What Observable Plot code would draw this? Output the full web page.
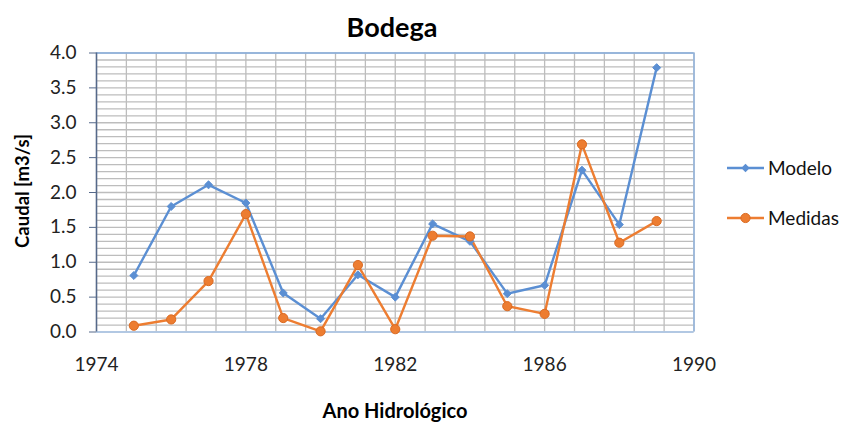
<!DOCTYPE html>
<html>
<head>
<meta charset="utf-8">
<script src="https://cdn.jsdelivr.net/npm/d3@7"></script>
<script src="https://cdn.jsdelivr.net/npm/@observablehq/plot@0.6"></script>
<style>
  html, body { margin: 0; padding: 0; background: #fff; }
  #chart svg { display: block; }
</style>
</head>
<body>
<div id="chart"></div>
<script>
// ---- data ----
const years   = [1975, 1976, 1977, 1978, 1979, 1980, 1981, 1982, 1983, 1984, 1985, 1986, 1987, 1988, 1989];
const modelo  = [0.81, 1.80, 2.11, 1.85, 0.56, 0.19, 0.82, 0.50, 1.55, 1.30, 0.55, 0.67, 2.32, 1.54, 3.79];
const medidas = [0.09, 0.18, 0.73, 1.69, 0.20, 0.01, 0.96, 0.04, 1.38, 1.37, 0.37, 0.26, 2.69, 1.28, 1.59];
const xTicks  = [1974, 1978, 1982, 1986, 1990];
const yTicks  = [0, 0.5, 1, 1.5, 2, 2.5, 3, 3.5, 4];
const seriesNames = ["Modelo", "Medidas"];
const title = "Bodega";
const xLabel = "Ano Hidrológico";
const yLabel = "Caudal [m3/s]";

// ---- styling / layout ----
const blue = "#5B8FD3";
const orange = "#ED7D31";
const orangeEdge = "#DA6A22";
const gridColor = "#BDBDBD";
const axisColor = "#55698A";
const frameColor = "#86AEDF";
const font = "Lato, 'Open Sans', sans-serif";

// minor grid positions (Excel minor unit = major/5)
const xMinor = d3.range(0, 21).map(i => 1974 + i * 0.8);
const yMinor = d3.range(0, 41).map(i => i / 10);

const rows = years.flatMap((yr, i) => [
  {year: yr, value: modelo[i], series: seriesNames[0]},
  {year: yr, value: medidas[i], series: seriesNames[1]}
]);
const rowsModelo = rows.filter(d => d.series === seriesNames[0]);
const rowsMedidas = rows.filter(d => d.series === seriesNames[1]);

const diamond = {
  draw(ctx, size) {
    const r = Math.sqrt(size / 2);
    ctx.moveTo(0, -r); ctx.lineTo(r, 0); ctx.lineTo(0, r); ctx.lineTo(-r, 0); ctx.closePath();
  }
};

const svg = Plot.plot({
  width: 844,
  height: 424,
  marginLeft: 96,
  marginRight: 150.5,
  marginTop: 52.5,
  marginBottom: 92.5,
  style: {fontFamily: font, fontSize: "18px", color: "#222", background: "#fff", overflow: "visible"},
  x: {domain: [1974, 1990]},
  y: {domain: [0, 4]},
  marks: [
    Plot.ruleY(yMinor, {stroke: gridColor, strokeWidth: 1.3}),
    Plot.ruleX(xMinor, {stroke: gridColor, strokeWidth: 1.3}),
    Plot.ruleY([4], {stroke: frameColor, strokeWidth: 1.3}),
    Plot.ruleY([0], {stroke: "#A9C6EA", strokeWidth: 1.3}),
    Plot.ruleX([1990], {stroke: frameColor, strokeWidth: 1.3}),
    Plot.ruleX([1974], {stroke: axisColor, strokeWidth: 1.5}),
    Plot.axisY({ticks: yTicks, tickFormat: d => d.toFixed(1), tickSize: 7, tickPadding: 13, stroke: axisColor, label: null, fontSize: 19, fill: "#222"}),
    Plot.axisX({ticks: xTicks, tickFormat: "d", tickSize: 0, tickPadding: 25, label: null, fontSize: 19, fill: "#222"}),
    Plot.line(rowsModelo, {x: "year", y: "value", stroke: blue, strokeWidth: 2.4}),
    Plot.line(rowsMedidas, {x: "year", y: "value", stroke: orange, strokeWidth: 2.4}),
    Plot.dot(rowsModelo, {x: "year", y: "value", symbol: diamond, r: 3.2, fill: blue, stroke: blue, strokeWidth: 1}),
    Plot.dot(rowsMedidas, {x: "year", y: "value", r: 4.6, fill: orange, stroke: orangeEdge, strokeWidth: 1})
  ]
});

const s = d3.select(svg);
// title
s.append("text").attr("x", 392).attr("y", 37).attr("text-anchor", "middle")
  .style("font-family", font).style("font-weight", "bold").style("font-size", "27px").attr("fill", "#000").text(title);
// x label
s.append("text").attr("x", 395).attr("y", 418).attr("text-anchor", "middle")
  .style("font-family", font).style("font-weight", "bold").style("font-size", "20px").attr("fill", "#000").text(xLabel);
// y label
s.append("text").attr("transform", "translate(29,191) rotate(-90)").attr("text-anchor", "middle")
  .style("font-family", font).style("font-weight", "bold").style("font-size", "18.5px").attr("fill", "#000").text(yLabel);

// legend
const legend = [
  {name: seriesNames[0], color: blue, y: 168, shape: "diamond"},
  {name: seriesNames[1], color: orange, y: 218, shape: "circle"}
];
legend.forEach(l => {
  const g = s.append("g");
  g.append("line").attr("x1", 727).attr("x2", 764).attr("y1", l.y).attr("y2", l.y)
    .attr("stroke", l.color).attr("stroke-width", 2.4);
  if (l.shape === "diamond") {
    g.append("path").attr("d", "M745.5,163.8L749.7,168L745.5,172.2L741.3,168Z").attr("fill", l.color);
  } else {
    g.append("circle").attr("cx", 745.5).attr("cy", l.y).attr("r", 4.6).attr("fill", l.color).attr("stroke", orangeEdge);
  }
  g.append("text").attr("x", 768).attr("y", l.y).attr("dy", "0.36em").attr("text-anchor", "start")
    .style("font-family", font).style("font-size", "19px").attr("fill", "#111").text(l.name);
});

document.getElementById("chart").appendChild(svg);
</script>
</body>
</html>
